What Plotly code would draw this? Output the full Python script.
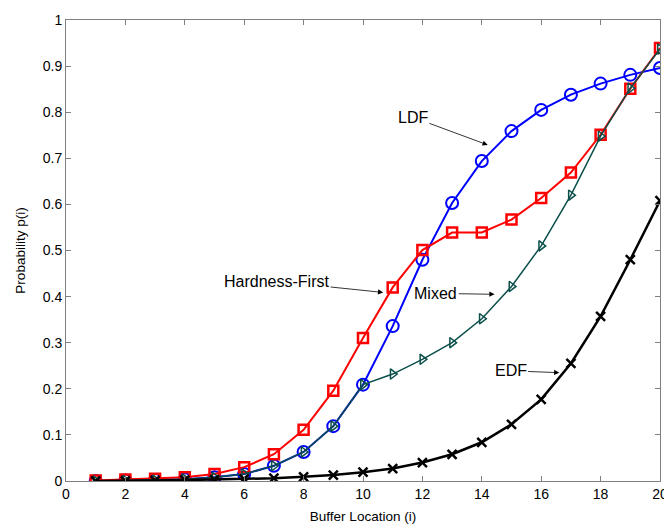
import plotly.graph_objects as go

x = list(range(1, 21))
ldf = [0.0, 0.001, 0.002, 0.004, 0.008, 0.015, 0.033, 0.063, 0.119, 0.209, 0.336, 0.480,
       0.603, 0.694, 0.759, 0.805, 0.838, 0.862, 0.881, 0.896]
hardness = [0.001, 0.003, 0.005, 0.008, 0.015, 0.030, 0.058, 0.111, 0.196, 0.310, 0.420, 0.501,
            0.539, 0.539, 0.567, 0.614, 0.669, 0.751, 0.851, 0.939]
mixed = [0.0, 0.001, 0.002, 0.004, 0.008, 0.015, 0.033, 0.063, 0.119, 0.209, 0.232, 0.264,
         0.300, 0.352, 0.422, 0.510, 0.620, 0.748, 0.852, 0.937]
edf = [0.0, 0.0, 0.001, 0.002, 0.003, 0.004, 0.006, 0.009, 0.013, 0.019, 0.027, 0.040,
       0.058, 0.084, 0.123, 0.177, 0.255, 0.357, 0.480, 0.608]

x_ticks = list(range(0, 21, 2))
y_ticks = [i / 10 for i in range(11)]
y_tick_text = ["0", "0.1", "0.2", "0.3", "0.4", "0.5", "0.6", "0.7", "0.8", "0.9", "1"]

FONT = "Liberation Sans, Arial, sans-serif"

fig = go.Figure()
fig.add_trace(go.Scatter(x=x, y=ldf, mode="lines+markers", name="LDF",
                         line=dict(color="#0000ff", width=2),
                         marker=dict(symbol="circle-open", size=12,
                                     line=dict(color="#0000ff", width=2))))
fig.add_trace(go.Scatter(x=x, y=hardness, mode="lines+markers", name="Hardness-First",
                         line=dict(color="#ff0000", width=2),
                         marker=dict(symbol="square-open", size=10,
                                     line=dict(color="#ff0000", width=2.5))))
fig.add_trace(go.Scatter(x=x, y=mixed, mode="lines+markers", name="Mixed",
                         line=dict(color="#0b4f4a", width=1.5),
                         marker=dict(symbol="triangle-right-open", size=9,
                                     line=dict(color="#0b4f4a", width=1.5))))
fig.add_trace(go.Scatter(x=x, y=edf, mode="lines+markers", name="EDF",
                         line=dict(color="black", width=2.5),
                         marker=dict(symbol="x-thin-open", size=9,
                                     line=dict(color="black", width=2.5))))

notes = [
    ("LDF", 11.68, 0.789, 14.2, 0.729),
    ("Hardness-First", 7.09, 0.433, 10.68, 0.409),
    ("Mixed", 12.45, 0.407, 14.43, 0.405),
    ("EDF", 14.97, 0.239, 16.61, 0.235),
]
for txt, tx, ty, hx, hy in notes:
    fig.add_annotation(x=hx, y=hy, ax=tx, ay=ty, xref="x", yref="y", axref="x", ayref="y",
                       text=txt, showarrow=True, arrowhead=2, arrowsize=1.3, arrowwidth=0.8,
                       arrowcolor="black", font=dict(family=FONT, size=16, color="black"))

axis_common = dict(showline=True, linecolor="#808080", linewidth=1, mirror="ticks",
                   ticks="inside", ticklen=5, tickcolor="#808080", showgrid=False,
                   zeroline=False, ticklabeloverflow="allow",
                   tickfont=dict(family=FONT, size=14, color="black"))

fig.update_xaxes(range=[0, 20], tickvals=x_ticks,
                 title=dict(text="Buffer Location (i)", font=dict(family=FONT, size=13.5, color="black"),
                            standoff=10), **axis_common)
fig.update_yaxes(range=[0, 1], tickvals=y_ticks, ticktext=y_tick_text,
                 title=dict(text="Probability p(i)", font=dict(family=FONT, size=13.5, color="black"),
                            standoff=14), **axis_common)

# the page keeps the browser's 8px body margin, so the figure is sized to fit
# inside the 672x529 window with the plot area at the reference position
fig.update_layout(width=664, height=521, margin=dict(l=58, r=9, t=4, b=48),
                  paper_bgcolor="white", plot_bgcolor="white", showlegend=False,
                  font=dict(family=FONT, size=13, color="black"))

fig.write_html("out.html", config={"displayModeBar": False})
